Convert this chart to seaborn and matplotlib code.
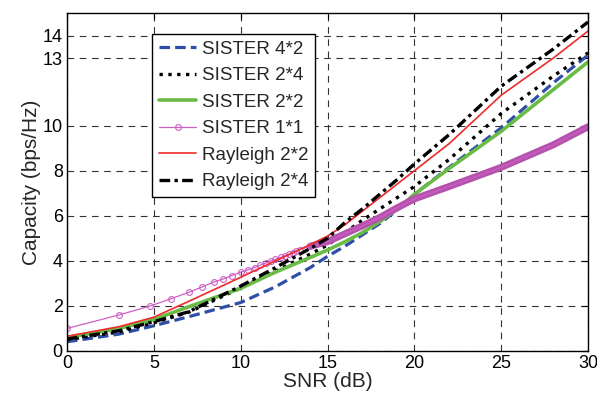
import matplotlib
matplotlib.use('Agg')
import matplotlib.pyplot as plt
import seaborn as sns

# SNR (dB) and capacity (bps/Hz)
snr = [0, 3, 5, 7, 10, 12, 14, 15, 16, 17, 18, 19, 20, 22, 25, 28, 30]

sister_4x2 = [0.41, 0.75, 1.12, 1.52, 2.15, 2.85, 3.7, 4.2, 4.65, 5.15, 5.65, 6.25, 6.95,
              8.15, 9.9, 11.9, 13.13]
sister_2x4 = [0.5, 0.85, 1.25, 1.72, 2.8, 3.55, 4.3, 4.7, 5.25, 5.8, 6.3, 6.8, 7.3,
              8.5, 10.54, 12.2, 13.23]
sister_2x2 = [0.6, 1.0, 1.4, 1.96, 2.78, 3.5, 4.15, 4.48, 4.85, 5.25, 5.73, 6.3, 6.95,
              8.1, 9.75, 11.6, 12.83]
rayleigh_2x2 = [0.65, 1.08, 1.5, 2.2, 3.27, 4.0, 4.72, 5.1, 5.6, 6.2, 6.8, 7.4, 8.0,
                9.2, 11.35, 13.0, 14.2]
rayleigh_2x4 = [0.53, 0.9, 1.3, 1.74, 2.88, 3.7, 4.55, 5.0, 5.7, 6.3, 6.95, 7.6, 8.3,
                9.6, 11.75, 13.4, 14.6]

# SISTER 1*1 has its own sample points (markers)
snr_1x1 = [0, 3.0, 4.8, 6.0, 7.0, 7.8, 8.45, 9.0, 9.5, 10.0, 10.4, 10.8, 11.1, 11.45,
           11.75, 12.0, 12.3, 12.55, 12.8, 13.0, 13.2, 13.4, 14, 15, 16, 17, 18, 19,
           20, 22, 25, 28, 30]
sister_1x1 = [1.0, 1.6, 2.0, 2.32, 2.6, 2.85, 3.06, 3.2, 3.35, 3.5, 3.6, 3.7, 3.8, 3.9,
              4.0, 4.07, 4.15, 4.22, 4.3, 4.37, 4.43, 4.5, 4.65, 4.85, 5.2, 5.55, 5.92, 6.35,
              6.75, 7.3, 8.15, 9.15, 9.95]

x_ticks = [0, 5, 10, 15, 20, 25, 30]
y_ticks = [0, 2, 4, 6, 8, 10, 13, 14]

sns.set_style('white')
plt.rcParams['font.family'] = ['Liberation Sans', 'DejaVu Sans']

fig = plt.figure(figsize=(5.97, 4.01), dpi=100)
ax = fig.add_axes([0.1122, 0.1247, 0.8728, 0.8429])

kw = dict(ax=ax, estimator=None, sort=False)
sns.lineplot(x=snr, y=sister_4x2, color='#2e4ea8', dashes=(3.3, 1.6), linewidth=2.3,
             label='SISTER 4*2', **kw)
sns.lineplot(x=snr, y=sister_2x4, color='black', linestyle=':', linewidth=2.4,
             label='SISTER 2*4', **kw)
sns.lineplot(x=snr, y=sister_2x2, color='#6abb46', linestyle='-', linewidth=2.6,
             label='SISTER 2*2', **kw)
# dense marker region at high SNR looks like a thick band
n_mark = 23
sns.lineplot(x=snr_1x1[n_mark - 1:], y=sister_1x1[n_mark - 1:], color='#b552ad',
             linewidth=5.0, solid_capstyle='round', **kw)
sns.lineplot(x=snr_1x1, y=sister_1x1, color='#cc5fc6', linestyle='-', linewidth=0.9,
             marker='o', markersize=4.2, markerfacecolor='none', markeredgewidth=0.8,
             markeredgecolor='#cc5fc6', markevery=list(range(n_mark)),
             label='SISTER 1*1', **kw)
sns.lineplot(x=snr, y=rayleigh_2x2, color='#ee2a2a', linestyle='-', linewidth=1.2,
             label='Rayleigh 2*2', **kw)
sns.lineplot(x=snr, y=rayleigh_2x4, color='black', dashes=(3.2, 1.3, 1, 1.3), linewidth=2.4,
             label='Rayleigh 2*4', **kw)

ax.set_xlim(0, 30)
ax.set_ylim(0, 15)
ax.set_xticks(x_ticks)
ax.set_yticks(y_ticks)
ax.tick_params(direction='in', top=True, right=True, length=4, width=0.8,
               labelsize=13, colors='black', pad=3)
ax.grid(True, color='#333333', linestyle=(0, (6, 5)), linewidth=0.8)
for s in ax.spines.values():
    s.set_color('black')
    s.set_linewidth(1.0)

ax.set_xlabel('SNR (dB)', fontsize=15, labelpad=0)
ax.set_ylabel('Capacity (bps/Hz)', fontsize=15, labelpad=1)

leg = ax.legend(loc='upper left', bbox_to_anchor=(0.1637, 0.937), borderaxespad=0,
                fontsize=13.5, fancybox=False, framealpha=1, edgecolor='black',
                labelspacing=0.5, borderpad=0.35, handlelength=2.0, handletextpad=0.3,
                numpoints=1)
leg.get_frame().set_linewidth(1.0)

fig.savefig('out.png', dpi=100)
